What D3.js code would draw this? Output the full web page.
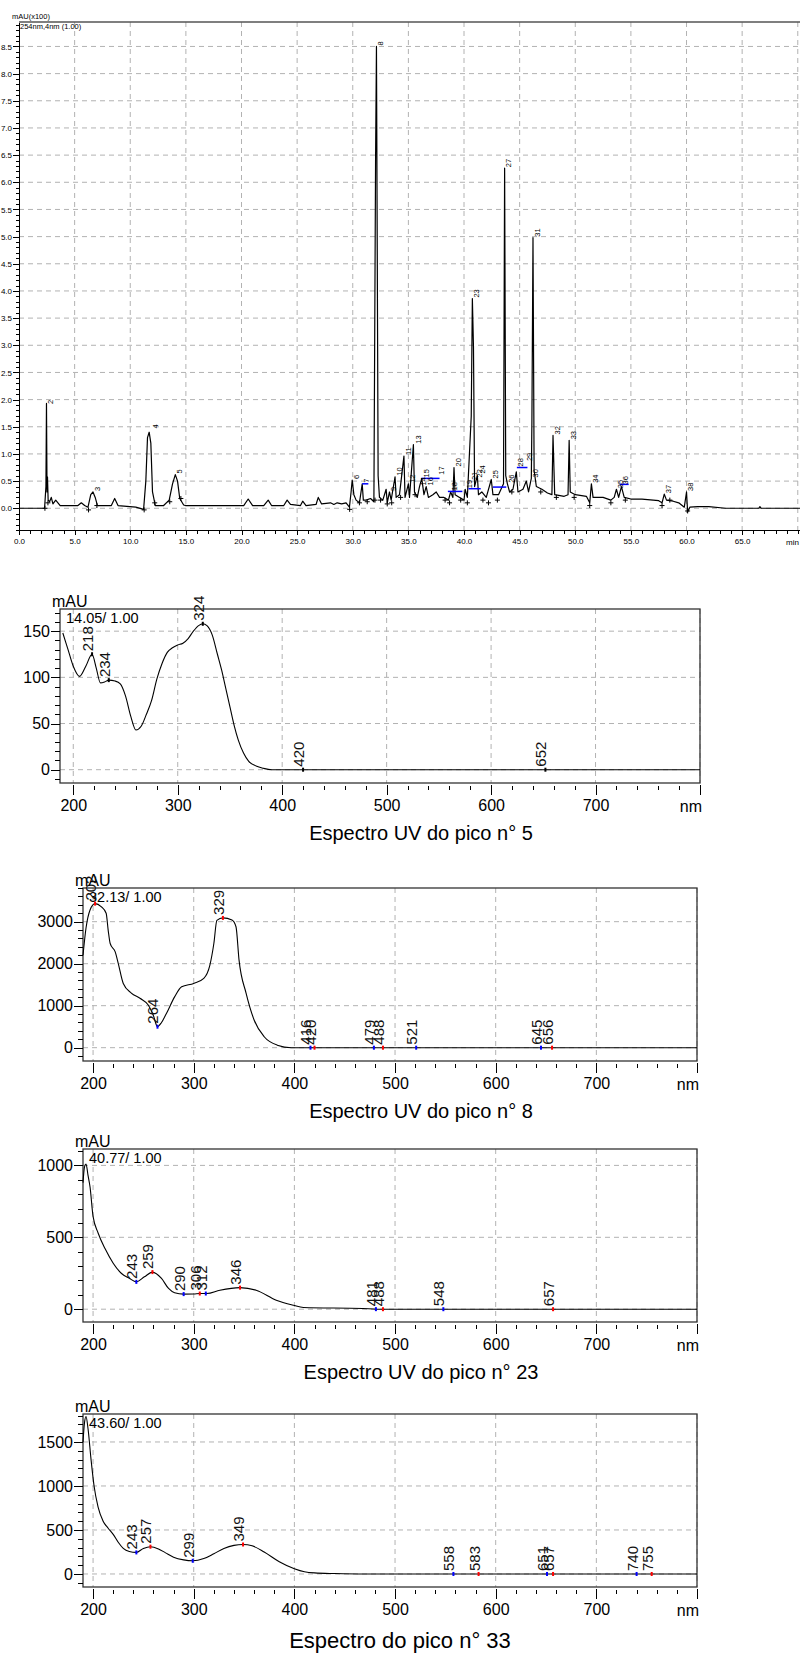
<!DOCTYPE html>
<html>
<head>
<meta charset="utf-8">
<script src="https://cdn.jsdelivr.net/npm/d3@7"></script>
<style>
  body { margin: 0; background: #fff; }
  svg { display: block; font-family: "Liberation Sans", Arial, sans-serif; }
  .grid { stroke: #b2b2b2; stroke-width: 1; stroke-dasharray: 5,4; }
  .axis line, .axis path { stroke: #000; shape-rendering: crispEdges; }
  .axis text { fill: #000; }
</style>
</head>
<body>
<div id="chart"></div>
<script>
// ---------- data ----------
// chromatogram trace, [time (min), mAU x100]
var chromTrace = [
  [0,0],[2.3,0],[2.42,0.4],[2.47,1.93],[2.52,0.3],[2.56,0.58],[2.62,0.15],[2.75,0.12],[2.9,0.2],[3.05,0.08],
  [3.3,0.15],[3.5,0.1],[3.7,0.05],[4.5,0.05],[5.3,0.05],[5.6,0.1],[5.9,0.05],[6.2,0.02],[6.45,0.25],[6.65,0.3],
  [6.85,0.2],[7.05,0.05],[8.3,0.05],[8.6,0.18],[8.9,0.05],[10.5,0.02],[11.2,-0.02],[11.4,0.5],[11.55,1.3],[11.7,1.4],
  [11.85,1.2],[12.0,0.3],[12.25,0.05],[13.0,0.05],[13.5,0.15],[13.8,0.45],[14.05,0.62],[14.25,0.5],[14.45,0.18],[14.8,0.06],
  [15,0.05],[20.2,0.05],[20.6,0.17],[21.0,0.05],[22.0,0.05],[22.4,0.15],[22.7,0.05],[23.8,0.05],[24.1,0.15],[24.4,0.07],
  [25.3,0.05],[25.5,0.13],[25.8,0.05],[26.7,0.07],[26.9,0.2],[27.2,0.08],[28,0.1],[28.3,0.07],[28.6,0.1],[29,0.08],
  [29.4,0.1],[29.7,0.02],[29.85,0.3],[29.95,0.52],[30.1,0.25],[30.3,0.15],[30.6,0.1],[30.85,0.45],[30.95,0.15],[31.2,0.15],
  [31.6,0.18],[31.9,0.12],[32.05,6.4],[32.13,8.5],[32.2,4.8],[32.28,0.6],[32.4,0.2],[32.7,0.15],[33.0,0.35],[33.1,0.1],
  [33.3,0.3],[33.45,0.15],[33.8,0.58],[33.9,0.2],[34.2,0.25],[34.6,0.96],[34.7,0.2],[35.0,0.45],[35.1,0.2],[35.45,1.17],
  [35.55,0.3],[35.8,0.2],[36.0,0.4],[36.2,0.55],[36.4,0.25],[36.6,0.4],[36.8,0.2],[37.2,0.25],[37.5,0.3],[37.8,0.2],
  [38.2,0.2],[38.6,0.15],[38.8,0.3],[39.0,0.2],[39.1,0.75],[39.2,0.25],[39.6,0.2],[40.0,0.15],[40.1,0.35],[40.3,0.2],
  [40.65,1.7],[40.75,3.86],[40.85,2.97],[40.95,0.4],[41.2,0.6],[41.3,0.25],[41.6,0.3],[42.0,0.2],[42.45,0.53],[42.6,0.25],
  [43.1,0.25],[43.55,0.45],[43.65,6.26],[43.75,0.6],[43.9,0.45],[44.1,0.3],[44.4,0.35],[44.7,0.67],[44.85,0.3],[45.3,0.35],
  [45.6,0.5],[45.8,0.3],[46.05,0.55],[46.1,1.55],[46.2,4.98],[46.3,0.7],[46.5,0.4],[47.0,0.35],[47.5,0.28],[47.9,0.25],
  [48.0,1.34],[48.15,0.25],[49.0,0.22],[49.35,0.25],[49.45,1.25],[49.55,0.3],[50,0.25],[51,0.22],[51.3,0.1],[51.45,0.45],
  [51.6,0.2],[52.5,0.2],[53.2,0.15],[53.5,0.2],[53.7,0.35],[53.9,0.2],[54.15,0.4],[54.4,0.2],[55,0.17],[56,0.17],
  [57.5,0.14],[57.8,0.1],[58.0,0.26],[58.2,0.15],[58.8,0.13],[59.3,0.1],[59.8,0.02],[60.0,0.3],[60.1,-0.07],[60.3,0.02],
  [61,0.03],[62,0.03],[63.5,0.0],[66.5,0.0],[66.6,0.03],[66.7,0.0],[70.3,0.0]
];

// peak numbers with [label, time, height]
var chromPeaks = [
  ["2",2.5,1.9],["3",6.7,0.3],["4",11.9,1.45],["5",14.1,0.62],["6",29.95,0.52],["7",30.9,0.45],["8",32.15,8.5],
  ["9",33.3,0.3],["10",33.8,0.58],["11",34.6,0.96],["12",35.0,0.45],["13",35.5,1.17],["14",36.0,0.4],["15",36.25,0.55],
  ["16",36.6,0.4],["17",37.6,0.6],["18",38.8,0.31],["20",39.1,0.75],["19",40.1,0.35],["21",40.55,0.5],["23",40.75,3.86],
  ["22",41.0,0.55],["24",41.25,0.62],["25",42.45,0.53],["27",43.65,6.26],["26",43.9,0.45],["28",44.7,0.75],["29",45.5,0.85],
  ["30",46.05,0.55],["31",46.2,4.98],["32",48.0,1.34],["33",49.45,1.25],["34",51.45,0.45],["35",53.7,0.35],["36",54.15,0.42],
  ["37",58.0,0.26],["38",60.0,0.3]
];

// blue integration marks [start, end, level]
var chromMarks = [
  [30.85,31.4,0.45],[36.2,37.8,0.55],[38.55,39.85,0.31],[40.4,41.5,0.36],[42.6,43.8,0.39],[44.75,45.7,0.75],[54.0,54.8,0.44]
];

// peak start / end crosses [time, level]
var chromCross = [
  [2.33,0],[2.6,0.1],[6.25,-0.03],[7.0,0.05],[11.25,-0.03],[12.2,0.1],[13.55,0.12],[14.55,0.18],[29.72,-0.02],
  [30.6,0.1],[31.3,0.12],[32.0,0.15],[32.5,0.15],[33.1,0.08],[33.5,0.1],[34.3,0.2],[35.6,0.25],[38.3,0.15],
  [38.7,0.1],[39.7,0.15],[40.3,0.1],[41.7,0.15],[42.2,0.1],[43.0,0.15],[44.3,0.3],[46.9,0.3],[48.3,0.2],
  [49.9,0.2],[51.3,0.05],[53.2,0.1],[54.5,0.15],[57.8,0.05],[58.5,0.15],[60.1,-0.05]
];

var chromXTicks = [0,5,10,15,20,25,30,35,40,45,50,55,60,65];
var chromYTicks = [0,0.5,1,1.5,2,2.5,3,3.5,4,4.5,5,5.5,6,6.5,7,7.5,8,8.5];

// UV spectra, [wavelength (nm), mAU]
var spec5 = [
  [190,148],[195,130],[200,112],[206,101],[212,112],[218,125],[222,110],[226,94],[230,95],[234,97],[240,96],[245,93],
  [250,80],[255,58],[260,43],[265,47],[270,60],[275,75],[280,98],[285,115],[290,127],[295,132],[300,135],[305,137],
  [310,142],[315,150],[320,156],[324,158],[328,156],[333,146],[338,125],[342,108],[346,88],[350,68],[354,48],[358,32],
  [363,18],[368,9],[375,4],[382,1.5],[390,0],[420,0],[652,0],[800,0]
];
var spec5Labels = [[218,"k"],[234,"k"],[324,"k"],[420,"k"],[652,"k"]];

var spec8 = [
  [190,2200],[193,2850],[197,3280],[202,3430],[208,3360],[213,3200],[215,2800],[217,2480],[222,2280],[225,2010],
  [230,1530],[238,1300],[247,1170],[255,1010],[260,760],[264,500],[268,600],[273,820],[281,1210],[288,1450],
  [300,1530],[310,1650],[316,1960],[320,2480],[323,3030],[329,3090],[338,3040],[342,2880],[345,2090],[352,1300],
  [360,660],[370,260],[383,60],[397,0],[800,0]
];
var spec8Labels = [[202,"r"],[264,"b"],[329,"r"],[416,"b"],[420,"r"],[479,"b"],[488,"r"],[521,"b"],[645,"b"],[656,"r"]];

var spec23 = [
  [190,880],[191.5,990],[193,1010],[195,930],[197,850],[200,645],[205,530],[212,420],[220,320],[228,250],[236,215],
  [243,190],[251,225],[259,258],[268,214],[275,144],[281,114],[290,105],[300,106],[306,109],[313,109],[326,132],
  [346,150],[362,132],[382,63],[399,28],[409,12],[468,5],[482,0],[800,0]
];
var spec23Labels = [[243,"b"],[259,"r"],[290,"b"],[306,"r"],[312,"b"],[346,"r"],[481,"b"],[488,"r"],[548,"b"],[657,"r"]];

var spec33 = [
  [190,1500],[191.5,1720],[193,1790],[195,1650],[198,1300],[201,1000],[205,760],[210,600],[215,520],[220,450],
  [225,360],[230,290],[236,255],[243,245],[250,290],[257,310],[265,285],[272,240],[280,190],[290,160],[299,150],
  [310,175],[320,230],[330,290],[340,325],[349,335],[358,320],[370,250],[385,140],[400,60],[410,25],[420,12],
  [440,5],[470,0],[800,0]
];
var spec33Labels = [[243,"b"],[257,"r"],[299,"b"],[349,"r"],[558,"b"],[583,"r"],[651,"b"],[657,"r"],[740,"b"],[755,"r"]];

var specXTicks = [200,300,400,500,600,700];

// ---------- svg ----------
var svgWidth = 800;
var svgHeight = 1656;

var svg = d3.select("#chart")
  .append("svg")
  .attr("width", svgWidth)
  .attr("height", svgHeight);

// ---------- chromatogram ----------
var chrom = {left: 19, right: 800, top: 22, bottom: 530};

var xC = d3.scaleLinear().domain([0, 70.2]).range([chrom.left, chrom.right]);
var yC = d3.scaleLinear().domain([-0.4, 8.95]).range([chrom.bottom, chrom.top]);

var cg = svg.append("g");

// dashed grid
cg.selectAll(".vg").data(chromXTicks.slice(1).concat([70])).enter()
  .append("line").attr("class", "grid")
  .attr("x1", d => xC(d)).attr("x2", d => xC(d))
  .attr("y1", chrom.top).attr("y2", chrom.bottom);

cg.selectAll(".hg").data(chromYTicks).enter()
  .append("line").attr("class", "grid")
  .attr("x1", chrom.left).attr("x2", chrom.right)
  .attr("y1", d => yC(d)).attr("y2", d => yC(d));

// top border
cg.append("line")
  .attr("x1", chrom.left).attr("x2", chrom.right)
  .attr("y1", chrom.top).attr("y2", chrom.top)
  .attr("stroke", "#555").attr("stroke-width", 1.5);

// axes
cg.append("g").attr("class", "axis")
  .attr("transform", `translate(0, ${chrom.bottom})`)
  .call(d3.axisBottom(xC).tickValues(d3.range(0, 71, 1)).tickSize(4).tickSizeOuter(0).tickFormat(""));

cg.append("g").attr("class", "axis")
  .attr("transform", `translate(0, ${chrom.bottom})`)
  .call(d3.axisBottom(xC).tickValues(chromXTicks).tickSize(5).tickSizeOuter(0).tickPadding(3)
    .tickFormat(d3.format(".1f")))
  .call(a => a.select(".domain").remove())
  .selectAll("text").style("font-size", "8px");

cg.append("text")
  .attr("x", 799).attr("y", 545)
  .attr("text-anchor", "end")
  .style("font-size", "8px")
  .text("min");

cg.append("g").attr("class", "axis")
  .attr("transform", `translate(${chrom.left}, 0)`)
  .call(d3.axisLeft(yC).tickValues(d3.range(-4, 90, 1).map(d => d / 10)).tickSize(3).tickSizeOuter(0).tickFormat(""));

cg.append("g").attr("class", "axis")
  .attr("transform", `translate(${chrom.left}, 0)`)
  .call(d3.axisLeft(yC).tickValues(chromYTicks).tickSize(6).tickPadding(1).tickFormat(d3.format(".1f")))
  .call(a => a.select(".domain").remove())
  .selectAll("text").style("font-size", "8px");

cg.append("text").attr("x", 12).attr("y", 19).style("font-size", "7.5px").text("mAU(x100)");
cg.append("text").attr("x", 20).attr("y", 29).style("font-size", "7.5px").text("254nm,4nm (1.00)");

// trace
var chromLine = d3.line()
  .x(d => xC(d[0]))
  .y(d => yC(d[1]));

cg.append("path")
  .datum(chromTrace)
  .attr("d", chromLine)
  .attr("fill", "none")
  .attr("stroke", "#000")
  .attr("stroke-width", 1.2)
  .attr("stroke-linejoin", "round");

// integration marks
cg.selectAll(".mark").data(chromMarks).enter()
  .append("line")
  .attr("x1", d => xC(d[0])).attr("x2", d => xC(d[1]))
  .attr("y1", d => yC(d[2])).attr("y2", d => yC(d[2]))
  .attr("stroke", "#0000ff").attr("stroke-width", 1.5);

// crosses at peak bounds
cg.selectAll(".cross").data(chromCross).enter()
  .append("path")
  .attr("d", d => {
    var cx = xC(d[0]), cy = yC(d[1]);
    return `M${cx - 2.5},${cy}H${cx + 2.5}M${cx},${cy - 2.5}V${cy + 2.5}`;
  })
  .attr("stroke", "#000").attr("stroke-width", 1);

// peak numbers
cg.selectAll(".plabel").data(chromPeaks).enter()
  .append("text")
  .attr("transform", d => `translate(${xC(d[1]) + 1}, ${yC(d[2]) - 1}) rotate(-90)`)
  .attr("dy", "0.75em")
  .style("font-size", "7.5px")
  .text(d => d[0]);

// ---------- UV spectra ----------
var markColor = {r: "#ff0000", b: "#0000ff", k: "#000000"};

function valueAt(points, nm) {
  for (var i = 1; i < points.length; i++) {
    if (points[i][0] >= nm) {
      var a = points[i - 1], b = points[i];
      return a[1] + (b[1] - a[1]) * (nm - a[0]) / (b[0] - a[0]);
    }
  }
  return points[points.length - 1][1];
}

function drawSpectrum(cfg) {
  var x = d3.scaleLinear().domain(cfg.xDomain).range([cfg.left, cfg.right]);
  var y = d3.scaleLinear().domain(cfg.yDomain).range([cfg.bottom, cfg.top]);

  var g = svg.append("g");

  // grid
  g.selectAll(".vg").data(specXTicks.concat([800])).enter()
    .append("line").attr("class", "grid")
    .attr("x1", d => x(d)).attr("x2", d => x(d))
    .attr("y1", cfg.top).attr("y2", cfg.bottom);

  g.selectAll(".hg").data(cfg.yTicks).enter()
    .append("line").attr("class", "grid")
    .attr("x1", cfg.left).attr("x2", cfg.right)
    .attr("y1", d => y(d)).attr("y2", d => y(d));

  // frame
  g.append("rect")
    .attr("x", cfg.left).attr("y", cfg.top)
    .attr("width", cfg.right - cfg.left).attr("height", cfg.bottom - cfg.top)
    .attr("fill", "none").attr("stroke", "#333").attr("stroke-width", 1.3);

  // x axis
  g.append("g").attr("class", "axis")
    .attr("transform", `translate(0, ${cfg.bottom + 3})`)
    .call(d3.axisBottom(x).tickValues(d3.range(200, 801, 20)).tickSize(4).tickFormat(""))
    .call(a => a.select(".domain").remove());

  g.append("g").attr("class", "axis")
    .attr("transform", `translate(0, ${cfg.bottom + 2})`)
    .call(d3.axisBottom(x).tickValues(specXTicks.concat([800])).tickSize(10).tickPadding(5)
      .tickFormat(d => d === 800 ? "" : d))
    .call(a => a.select(".domain").remove())
    .selectAll("text").style("font-size", "16px");

  g.append("text")
    .attr("x", cfg.right + 2).attr("y", cfg.bottom + 29)
    .attr("text-anchor", "end")
    .style("font-size", "16px")
    .text("nm");

  // y axis
  g.append("g").attr("class", "axis")
    .attr("transform", `translate(${cfg.left}, 0)`)
    .call(d3.axisLeft(y).tickValues(cfg.yMinor).tickSize(5).tickFormat(""))
    .call(a => a.select(".domain").remove());

  g.append("g").attr("class", "axis")
    .attr("transform", `translate(${cfg.left}, 0)`)
    .call(d3.axisLeft(y).tickValues(cfg.yTicks).tickSize(9).tickPadding(1).tickFormat(d3.format("d")))
    .call(a => a.select(".domain").remove())
    .selectAll("text").style("font-size", "16px");

  g.append("text")
    .attr("x", cfg.left - 8).attr("y", cfg.top - 2)
    .style("font-size", "16px")
    .text("mAU");

  g.append("text")
    .attr("x", cfg.left + 6).attr("y", cfg.top + 14)
    .style("font-size", "14.5px")
    .text(cfg.info);

  // curve
  var line = d3.line()
    .x(d => x(d[0]))
    .y(d => y(d[1]))
    .curve(d3.curveMonotoneX);

  g.append("path")
    .datum(cfg.data)
    .attr("d", line)
    .attr("fill", "none")
    .attr("stroke", "#000")
    .attr("stroke-width", 1.1);

  // peak / valley labels
  var lab = g.selectAll(".lab").data(cfg.labels).enter().append("g");

  lab.append("rect")
    .attr("x", d => x(d[0]) - 1)
    .attr("y", d => y(valueAt(cfg.data, d[0])) - 2)
    .attr("width", 2).attr("height", 4)
    .attr("fill", d => markColor[d[1]]);

  lab.append("text")
    .attr("transform", d => `translate(${x(d[0]) + 1}, ${y(valueAt(cfg.data, d[0])) - 3}) rotate(-90)`)
    .style("font-size", "15px")
    .attr("fill", "#111")
    .text(d => d[0]);

  // title
  g.append("text")
    .attr("x", cfg.titleX).attr("y", cfg.bottom + cfg.titleDy)
    .attr("text-anchor", "middle")
    .style("font-size", cfg.titleSize)
    .text(cfg.title);
}

drawSpectrum({
  left: 60, right: 700, top: 609, bottom: 783,
  xDomain: [187.3, 800], yDomain: [-14.4, 174],
  yTicks: [0, 50, 100, 150], yMinor: d3.range(-10, 171, 10),
  data: spec5, labels: spec5Labels, info: "14.05/ 1.00",
  title: "Espectro UV do pico n° 5", titleX: 421, titleDy: 57, titleSize: "20px"
});

drawSpectrum({
  left: 83, right: 697, top: 888, bottom: 1061,
  xDomain: [190, 800], yDomain: [-317, 3802],
  yTicks: [0, 1000, 2000, 3000], yMinor: d3.range(-200, 3801, 200),
  data: spec8, labels: spec8Labels, info: "32.13/ 1.00",
  title: "Espectro UV do pico n° 8", titleX: 421, titleDy: 57, titleSize: "20px"
});

drawSpectrum({
  left: 83, right: 697, top: 1149, bottom: 1322,
  xDomain: [190, 800], yDomain: [-89, 1114],
  yTicks: [0, 500, 1000], yMinor: d3.range(0, 1101, 100),
  data: spec23, labels: spec23Labels, info: "40.77/ 1.00",
  title: "Espectro UV do pico n° 23", titleX: 421, titleDy: 57, titleSize: "20px"
});

drawSpectrum({
  left: 83, right: 697, top: 1414, bottom: 1587,
  xDomain: [190, 800], yDomain: [-148, 1818],
  yTicks: [0, 500, 1000, 1500], yMinor: d3.range(-100, 1801, 100),
  data: spec33, labels: spec33Labels, info: "43.60/ 1.00",
  title: "Espectro do pico n° 33", titleX: 400, titleDy: 61, titleSize: "22px"
});
</script>
</body>
</html>
